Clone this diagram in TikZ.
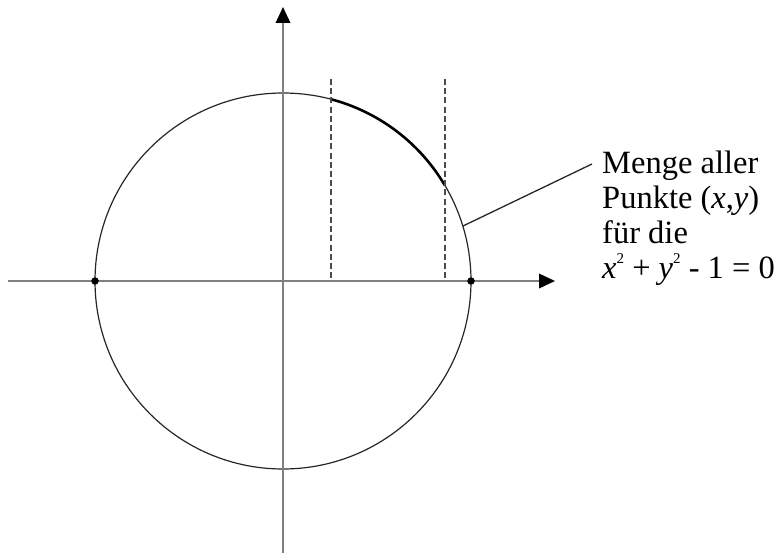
\documentclass[tikz,border=0pt]{standalone}
\usepackage{fontspec}
\setmainfont{Liberation Serif}
\usetikzlibrary{arrows.meta}
\newcommand{\supsmall}[1]{\raisebox{0.48em}{\fontsize{15}{15}\selectfont #1}}
\tikzset{
  axisline/.style={draw=black!50, line width=2pt,
    -{Triangle[length=16pt,width=14.5pt,color=black,fill=black]}},
  circleline/.style={draw=black!85, line width=1.2pt},
  arcline/.style={draw=black, line width=2.6pt},
  dashline/.style={draw=black!70, line width=1.5pt, dash pattern=on 6pt off 3.2pt},
  leader/.style={draw=black!85, line width=1.3pt},
  pointdot/.style={circle, fill=black, inner sep=0pt, minimum size=7.5pt},
  labeltext/.style={anchor=north west, inner sep=0pt, align=left,
    font=\fontsize{32.5}{35}\selectfont}
}
\begin{document}
\begin{tikzpicture}[x=1pt,y=-1pt]
\useasboundingbox (0,0) rectangle (776,553);
\coordinate (O) at (283,281);
\coordinate (xstart) at (8,281);
\coordinate (xend) at (555,281);
\coordinate (ystart) at (283,553);
\coordinate (yend) at (283,7);
% circle
\draw[circleline] (O) circle[radius=188];
% highlighted arc
\draw[arcline] ([shift={(-75.2:188)}]283,281) arc[start angle=-75.2, end angle=-30.5, radius=188];
% dashed lines
\coordinate (d1top) at (331,79);
\coordinate (d1bot) at (331,281);
\coordinate (d2top) at (445,79);
\coordinate (d2bot) at (445,281);
\draw[dashline] (d1top) -- (d1bot);
\draw[dashline] (d2top) -- (d2bot);
% axes
\draw[axisline] (xstart) -- (xend);
\draw[axisline] (ystart) -- (yend);
% points
\node[pointdot] (pl) at (95,281) {};
\node[pointdot] (pr) at (471,281) {};
% label
\node[labeltext] (lab) at (602,151) {Menge aller\\Punkte (\textit{x},\textit{y})\\für die\\\textit{x}\supsmall{2} + \textit{y}\supsmall{2} - 1 = 0};
\coordinate (lstart) at (463,226);
\coordinate (lend) at (592,164);
\draw[leader] (lstart) -- (lend);
\end{tikzpicture}
\end{document}
